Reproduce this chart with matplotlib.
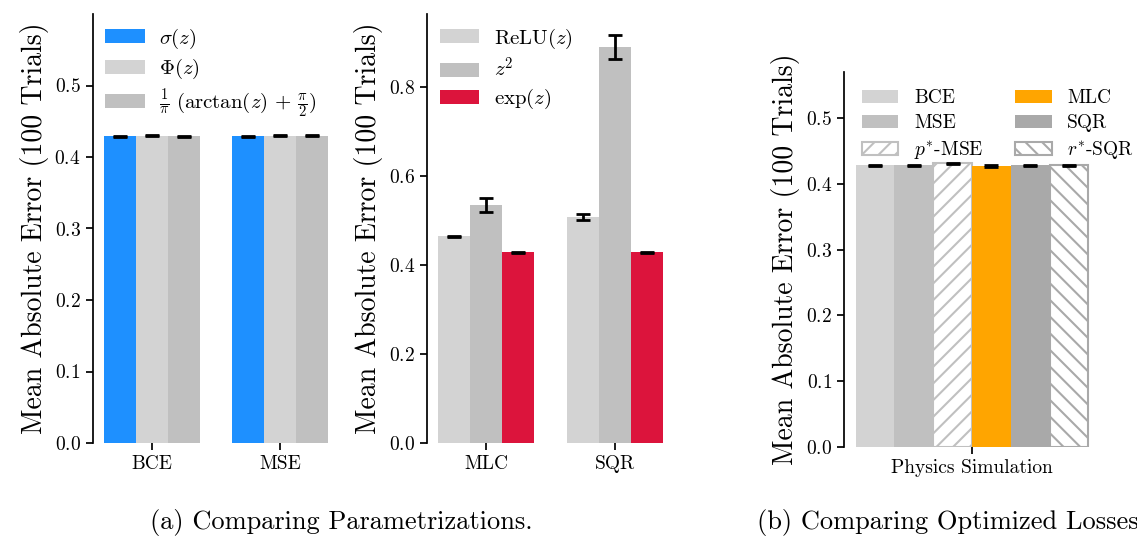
import matplotlib
matplotlib.use("Agg")
import matplotlib.pyplot as plt
import numpy as np

plt.rcParams.update({
    "font.family": "serif",
    "font.serif": ["cmr10"],
    "mathtext.fontset": "cm",
    "axes.formatter.use_mathtext": True,
    "axes.unicode_minus": False,
    "hatch.linewidth": 1.5,
})

# ---- data ----
groups_a = ["BCE", "MSE"]
labels_a = [r"$\sigma(z)$", r"$\Phi(z)$", r"$\frac{1}{\pi}\ (\arctan(z)\, +\, \frac{\pi}{2})$"]
vals_a = [[0.429, 0.429], [0.430, 0.430], [0.429, 0.430]]
errs_a = [[0.001, 0.001], [0.001, 0.001], [0.001, 0.001]]
colors_a = ["#1E90FF", "#D3D3D3", "#C0C0C0"]

groups_b = ["MLC", "SQR"]
labels_b = [r"$\mathrm{ReLU}(z)$", r"$z^2$", r"$\exp(z)$"]
vals_b = [[0.465, 0.508], [0.535, 0.890], [0.429, 0.429]]
errs_b = [[0.001, 0.007], [0.016, 0.026], [0.001, 0.001]]
colors_b = ["#D3D3D3", "#C0C0C0", "#DC143C"]

group_c = ["Physics Simulation"]
labels_c = ["BCE", "MSE", r"$p^{*}$-MSE", "MLC", "SQR", r"$r^{*}$-SQR"]
vals_c = [0.428, 0.428, 0.431, 0.427, 0.428, 0.428]
errs_c = [0.001, 0.001, 0.001, 0.001, 0.001, 0.001]
face_c = ["#D3D3D3", "#C0C0C0", "white", "#FFA500", "#A9A9A9", "white"]
edge_c = ["#D3D3D3", "#C0C0C0", "#C0C0C0", "#FFA500", "#A9A9A9", "#A9A9A9"]
hatch_c = [None, None, "//", None, None, "\\\\"]

fig = plt.figure(figsize=(11.37, 5.40), dpi=100)
W, H = 1137, 540

def add_ax(x0, x1, ytop, ybot):
    return fig.add_axes([x0 / W, (H - ybot) / H, (x1 - x0) / W, (ybot - ytop) / H])

ax1 = add_ax(92.5, 339.5, 14, 443)
ax2 = add_ax(427, 674, 14, 443)
ax3 = add_ax(844, 1100, 72, 447)

eb_kw = dict(ecolor="black", capsize=5, elinewidth=2, capthick=2)
TICK_FS = 14
LEG_FS = 15
LAB_FS = 20
CAP_FS = 19

def style(ax):
    for s in ["top", "right", "bottom"]:
        ax.spines[s].set_visible(False)
    ax.spines["left"].set_linewidth(1.25)
    ax.tick_params(axis="both", direction="out", length=5, width=1.25, labelsize=TICK_FS)
    ax.set_ylabel("Mean Absolute Error (100 Trials)", fontsize=LAB_FS)

leg_kw = dict(loc="upper left", frameon=False, fontsize=LEG_FS, handlelength=1.9,
              handleheight=0.65, labelspacing=0.3, borderaxespad=0.2, handletextpad=0.7)

w = 0.25
x = np.arange(len(groups_a))
for i in range(3):
    ax1.bar(x + (i - 1) * w, vals_a[i], w, color=colors_a[i], label=labels_a[i],
            yerr=errs_a[i], error_kw=eb_kw)
ax1.set_xticks(x)
ax1.set_xticklabels(groups_a)
ax1.set_ylim(0, 0.6)
ax1.set_yticks(np.arange(0, 0.51, 0.1))
style(ax1)
ax1.legend(**leg_kw)

x = np.arange(len(groups_b))
for i in range(3):
    ax2.bar(x + (i - 1) * w, vals_b[i], w, color=colors_b[i], label=labels_b[i],
            yerr=errs_b[i], error_kw=eb_kw)
ax2.set_xticks(x)
ax2.set_xticklabels(groups_b)
ax2.set_ylim(0, 0.964)
ax2.set_yticks(np.arange(0, 0.81, 0.2))
style(ax2)
ax2.legend(**leg_kw)

wc = 0.15
for i in range(6):
    ax3.bar((i - 2.5) * wc, vals_c[i], wc, color=face_c[i], edgecolor=edge_c[i],
            hatch=hatch_c[i], linewidth=1.5 if hatch_c[i] else 0, label=labels_c[i],
            yerr=errs_c[i], error_kw=eb_kw)
ax3.set_xticks([0])
ax3.set_xticklabels(group_c)
ax3.set_ylim(0, 0.57)
ax3.set_yticks(np.arange(0, 0.51, 0.1))
style(ax3)
ax3.legend(loc="upper left", frameon=False, fontsize=14, ncol=2, handlelength=1.9,
           handleheight=0.65, columnspacing=1.6, labelspacing=0.35)

fig.text(341 / W, 1 - 522 / H, "(a) Comparing Parametrizations.", ha="center", va="center",
         fontsize=CAP_FS)
fig.text(757 / W, 1 - 522 / H, "(b) Comparing Optimized Losses", ha="left", va="center",
         fontsize=CAP_FS)

fig.savefig("out.png", dpi=100)
